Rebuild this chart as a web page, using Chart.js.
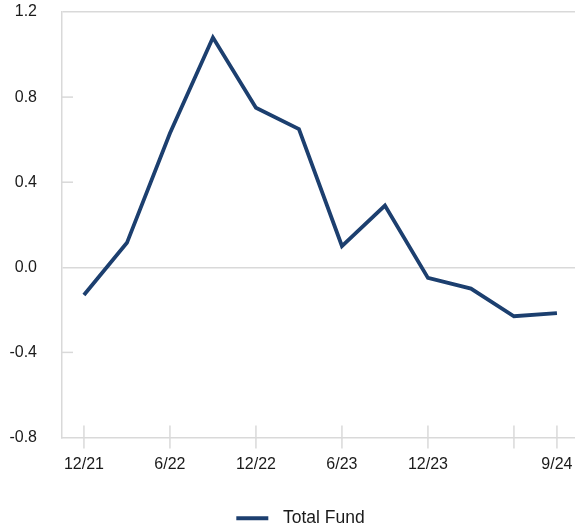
<!DOCTYPE html>
<html>
<head>
<meta charset="utf-8">
<script src="https://cdn.jsdelivr.net/npm/chart.js@4.4.1/dist/chart.umd.min.js"></script>
<style>
  html, body { margin: 0; padding: 0; background: #fff; }
  #wrap { width: 575px; height: 529px; position: relative; }
</style>
</head>
<body>
<div id="wrap"><canvas id="c"></canvas></div>
<script>
// ---- data ----
const categories = ['12/21','3/22','6/22','9/22','12/22','3/23','6/23','9/23','12/23','3/24','6/24','9/24'];
const totalFund = [-0.13, 0.115, 0.63, 1.08, 0.75, 0.65, 0.10, 0.29, -0.05, -0.10, -0.23, -0.215];
const xTickIndices = [0, 2, 4, 6, 8, 10, 11];
const xLabelIndices = [0, 2, 4, 6, 8, 11];
const yTicks = [-0.8, -0.4, 0.0, 0.4, 0.8, 1.2];
const yFullGridValues = [0.0, 1.2];
const seriesName = 'Total Fund';

const GRID = '#d9d9d9';
const LINE = '#1c3f6f';
const TEXT = '#1a1a1a';
const FONT = "'Liberation Sans', Arial, sans-serif";

// legend marker: a short line with spacing around it
function makeLegendMarker() {
  const c = document.createElement('canvas');
  c.width = 64; c.height = 8;
  const g = c.getContext('2d');
  g.strokeStyle = LINE;
  g.lineWidth = 4;
  g.beginPath();
  g.moveTo(26, 4);
  g.lineTo(58, 4);
  g.stroke();
  return c;
}
const legendMarker = makeLegendMarker();

const innerTicks = {
  id: 'innerTicks',
  beforeDatasetsDraw(chart) {
    const { ctx, chartArea, scales } = chart;
    ctx.save();
    ctx.strokeStyle = GRID;
    ctx.lineWidth = 1.5;
    scales.y.ticks.forEach(t => {
      if (yFullGridValues.some(v => Math.abs(v - t.value) < 1e-9)) return;
      if (Math.abs(t.value - scales.y.min) < 1e-9) return;
      const y = scales.y.getPixelForValue(t.value);
      ctx.beginPath();
      ctx.moveTo(chartArea.left, y);
      ctx.lineTo(chartArea.left + 11, y);
      ctx.stroke();
    });
    scales.x.ticks.forEach(t => {
      const x = scales.x.getPixelForValue(t.value);
      ctx.beginPath();
      ctx.moveTo(x, chartArea.bottom - 12);
      ctx.lineTo(x, chartArea.bottom + 11);
      ctx.stroke();
    });
    ctx.restore();
  }
};

new Chart(document.getElementById('c'), {
  type: 'line',
  data: {
    datasets: [{
      label: seriesName,
      data: totalFund.map((v, i) => ({ x: i, y: v })),
      borderColor: LINE,
      backgroundColor: LINE,
      borderWidth: 3.8,
      pointRadius: 0,
      tension: 0,
      borderJoinStyle: 'miter',
      borderCapStyle: 'butt',
      pointStyle: legendMarker
    }]
  },
  options: {
    responsive: true,
    maintainAspectRatio: false,
    animation: false,
    layout: { autoPadding: false, padding: { top: 12, right: 0, bottom: -8, left: 0 } },
    plugins: {
      tooltip: { enabled: false },
      legend: {
        position: 'bottom',
        labels: {
          usePointStyle: true,
          pointStyleWidth: 64,
          boxHeight: 17,
          color: TEXT,
          font: { family: FONT, size: 17.5 },
          padding: 0
        }
      }
    },
    scales: {
      x: {
        type: 'linear',
        min: -0.51,
        max: 11.42,
        afterBuildTicks(scale) {
          scale.ticks = xTickIndices.map(v => ({ value: v }));
        },
        afterFit(scale) { scale.height = 72; },
        grid: { display: true, drawOnChartArea: false, drawTicks: true, tickLength: 17, tickColor: 'rgba(0,0,0,0)' },
        border: { display: true, color: GRID, width: 1.5 },
        ticks: {
          autoSkip: false,
          maxRotation: 0,
          padding: 0,
          color: TEXT,
          font: { family: FONT, size: 16 },
          callback: (v) => xLabelIndices.includes(v) ? categories[v] : ''
        }
      },
      y: {
        min: -0.8,
        max: 1.2,
        afterBuildTicks(scale) {
          scale.ticks = yTicks.map(v => ({ value: v }));
        },
        afterFit(scale) { scale.width = 62; },
        grid: {
          drawTicks: true,
          tickLength: 25,
          tickColor: 'rgba(0,0,0,0)',
          lineWidth: 1.5,
          color: (c) => (c.tick && yFullGridValues.some(v => Math.abs(v - c.tick.value) < 1e-9)) ? GRID : 'rgba(0,0,0,0)'
        },
        border: { display: true, color: GRID, width: 1.5 },
        ticks: {
          padding: 0,
          color: TEXT,
          font: { family: FONT, size: 16 },
          callback: (v) => Number(v).toFixed(1)
        }
      }
    }
  },
  plugins: [innerTicks]
});
</script>
</body>
</html>
